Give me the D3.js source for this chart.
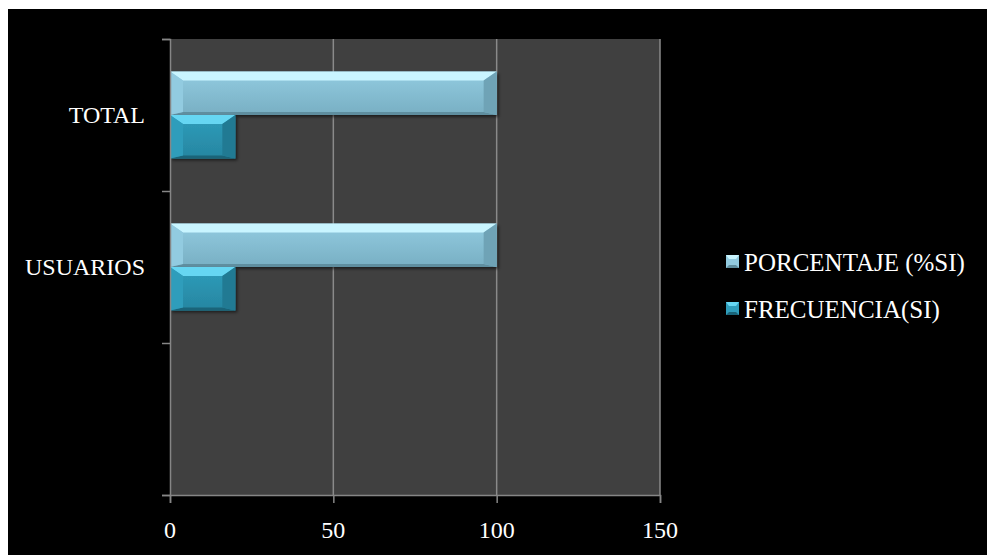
<!DOCTYPE html>
<html>
<head>
<meta charset="utf-8">
<script src="https://cdn.jsdelivr.net/npm/d3@7"></script>
<style>
  html, body { margin: 0; padding: 0; background: #fff; }
  svg { display: block; }
  text { font-family: "Liberation Serif", "DejaVu Serif", serif; fill: #fff; }
</style>
</head>
<body>
<script>
// data (top to bottom)
const categories = ["TOTAL", "USUARIOS", ""];
const seriesNames = ["PORCENTAJE (%SI)", "FRECUENCIA(SI)"];
const porcentaje = [100, 100, null];
const frecuencia = [20, 20, null];
const xTicks = [0, 50, 100, 150];

const W = 987, H = 555;
const plot = { left: 170, right: 660, top: 39, bottom: 495 };

// colours per series: light, mid, dark
const palette = [
  { top: "#c9f5ff", mid: "#92cbe0", low: "#78afc3", side: "#6fa3b6", edge: "#5f8e9f" },
  { top: "#66d6f2", mid: "#2f9dbb", low: "#2686a1", side: "#217a93", edge: "#1a6479" }
];

const svg = d3.select("body").append("svg")
  .attr("width", W)
  .attr("height", H);

// black frame (page keeps a thin white margin top/left)
svg.append("rect").attr("x", 8).attr("y", 9).attr("width", W - 8).attr("height", H - 9).attr("fill", "#000");

const defs = svg.append("defs");
palette.forEach((p, i) => {
  const g = defs.append("linearGradient").attr("id", "grad" + i)
    .attr("x1", 0).attr("y1", 0).attr("x2", 0).attr("y2", 1);
  g.append("stop").attr("offset", "0%").attr("stop-color", p.mid);
  g.append("stop").attr("offset", "100%").attr("stop-color", p.low);
});
const sh = defs.append("filter").attr("id", "shadow")
  .attr("x", "-5%").attr("y", "-20%").attr("width", "115%").attr("height", "150%");
sh.append("feDropShadow").attr("dx", 2).attr("dy", 2).attr("stdDeviation", 1.5)
  .attr("flood-color", "#000").attr("flood-opacity", 0.55);

const x = d3.scaleLinear().domain([0, 150]).range([plot.left, plot.right]);
const y = d3.scaleBand().domain(categories).range([plot.top, plot.bottom]).paddingInner(0).paddingOuter(0);
const ySub = d3.scaleBand().domain(seriesNames)
  .range([y.bandwidth() / 2 - y.bandwidth() * 0.2857, y.bandwidth() / 2 + y.bandwidth() * 0.2857]);

// plot area
svg.append("rect")
  .attr("x", plot.left).attr("y", plot.top)
  .attr("width", plot.right - plot.left).attr("height", plot.bottom - plot.top)
  .attr("fill", "#404040");

// gridlines
svg.append("g").selectAll("line").data(xTicks.slice(1)).enter().append("line")
  .attr("x1", d => x(d)).attr("x2", d => x(d))
  .attr("y1", plot.top).attr("y2", plot.bottom)
  .attr("stroke", "#8a8a8a").attr("stroke-width", 1.5);

// bars
const rows = categories.map((c, i) => ({ cat: c, vals: [porcentaje[i], frecuencia[i]] }));

function bevelBar(g, x0, x1, y0, y1, p, i) {
  const bx = Math.min(13, (x1 - x0) / 3), by = 9;
  g.append("rect").attr("x", x0).attr("y", y0).attr("width", x1 - x0).attr("height", y1 - y0)
    .attr("fill", "url(#grad" + i + ")").attr("filter", "url(#shadow)");
  const poly = (pts, fill) => g.append("polygon").attr("points", pts.map(q => q.join(",")).join(" ")).attr("fill", fill);
  poly([[x0, y0], [x1, y0], [x1 - bx, y0 + by], [x0 + bx, y0 + by]], p.top);
  poly([[x0, y1], [x1, y1], [x1 - bx, y1 - 3], [x0 + bx, y1 - 3]], p.edge);
  poly([[x0, y0], [x0 + bx, y0 + by], [x0 + bx, y1 - 3], [x0, y1]], p.mid);
  poly([[x1, y0], [x1 - bx, y0 + by], [x1 - bx, y1 - 3], [x1, y1]], p.side);
}

rows.forEach(r => {
  const g = svg.append("g").attr("transform", `translate(0,${y(r.cat)})`);
  r.vals.forEach((v, i) => {
    if (v == null) return;
    const y0 = ySub(seriesNames[i]);
    bevelBar(g, x(0), x(v), y0, y0 + ySub.bandwidth(), palette[i], i);
  });
});

// axes
const yIdx = d3.scaleLinear().domain([0, categories.length]).range([plot.top, plot.bottom]);
const yAxis = svg.append("g").attr("transform", `translate(${plot.left},0)`)
  .call(d3.axisLeft(yIdx).ticks(categories.length).tickSize(8).tickFormat(""));
const xAxis = svg.append("g").attr("transform", `translate(0,${plot.bottom})`)
  .call(d3.axisBottom(x).tickValues(xTicks).tickSize(8).tickFormat(""));
[yAxis, xAxis].forEach(a => {
  a.selectAll("path, line").attr("stroke", "#868686").attr("stroke-width", 1.5);
});

// x tick labels
svg.append("g").selectAll("text").data(xTicks).enter().append("text")
  .attr("x", d => x(d)).attr("y", 538)
  .attr("text-anchor", "middle")
  .attr("font-size", 24)
  .text(d => d);

// category labels
svg.append("g").selectAll("text").data(categories).enter().append("text")
  .attr("x", 145).attr("y", d => y(d) + y.bandwidth() / 2 + 8)
  .attr("text-anchor", "end")
  .attr("font-size", 24)
  .text(d => d);

// legend
const legend = svg.append("g").attr("transform", "translate(726,255)");
seriesNames.forEach((s, i) => {
  const g = legend.append("g").attr("transform", `translate(0,${i * 47})`);
  const p = palette[i];
  g.append("rect").attr("width", 13).attr("height", 13).attr("fill", p.mid);
  g.append("polygon").attr("points", "0,0 13,0 10,4 3,4").attr("fill", p.top);
  g.append("polygon").attr("points", "0,13 13,13 10,10 3,10").attr("fill", p.edge);
  g.append("text").attr("x", 18).attr("y", 16).attr("font-size", 25).text(s);
});
</script>
</body>
</html>
